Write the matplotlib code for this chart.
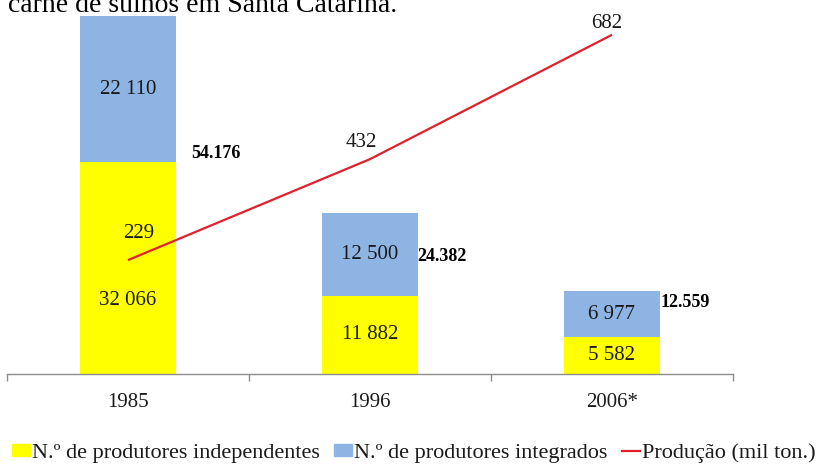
import matplotlib.pyplot as plt
from matplotlib.lines import Line2D
from matplotlib.patches import Patch

plt.rcParams['font.family'] = ['Liberation Serif', 'DejaVu Serif']

# data
anos = ['1985', '1996', '2006*']
independentes = [32066, 11882, 5582]
integrados = [22110, 12500, 6977]
producao = [229, 432, 682]

amarelo = '#FFFF00'
azul = '#8EB4E3'
vermelho = '#E0202A'
texto = '#1a1a1a'

W, H = 819, 465
fig = plt.figure(figsize=(W / 100, H / 100), dpi=100)

# axes placed in pixels: x 7..733, baseline at y=374 from top
ax = fig.add_axes([7 / W, (H - 374) / H, 726 / W, 374 / H])
ax2 = ax.twinx()

x = list(range(len(anos)))
b1 = ax.bar(x, independentes, width=0.4, color=amarelo, zorder=2)
b2 = ax.bar(x, integrados, width=0.4, bottom=independentes, color=azul, zorder=2)
ax.set_xlim(-0.5, 2.5)
ax.set_ylim(0, 56620)

ax2.set_ylim(0, 752)
ln, = ax2.plot(x, producao, color=vermelho, lw=1.6, solid_capstyle='butt', zorder=3)

# spines and ticks
for a in (ax, ax2):
    for s in ('top', 'right', 'left'):
        a.spines[s].set_visible(False)
    a.set_yticks([])
ax2.spines['bottom'].set_visible(False)
ax.spines['bottom'].set_color('#8c8c8c')
ax.spines['bottom'].set_linewidth(1.0)
ax.set_xticks(x)
ax.set_xticklabels(anos, fontsize=15, color=texto)
ax.tick_params(axis='x', which='major', length=0, pad=14)
ax.set_xticks([-0.5, 0.5, 1.5, 2.5], minor=True)
ax.tick_params(axis='x', which='minor', length=5, color='#8c8c8c', width=1.0)

# labels inside bars (value in thousands separated by space)
def fmt_space(v):
    return f'{v:,}'.replace(',', ' ')

# offsets in points for labels that were moved by hand
off_ind = [-23, 0, 0]
for i in x:
    ax.annotate(fmt_space(independentes[i]), (i, independentes[i] / 2),
                xytext=(0, off_ind[i]), textcoords='offset points',
                ha='center', va='center', fontsize=15, color=texto, zorder=4)
    ax.annotate(fmt_space(integrados[i]), (i, independentes[i] + integrados[i] / 2),
                ha='center', va='center', fontsize=15, color=texto, zorder=4)

# totals, bold
tot_off = [(11, -99), (-1, -31), (0, -8)]
for i in x:
    total = independentes[i] + integrados[i]
    ax.annotate(f'{total:,}'.replace(',', '.'), (i + 0.2, total),
                xytext=tot_off[i], textcoords='offset points',
                ha='left', va='center', fontsize=13, fontweight='bold',
                color='black', zorder=4)

# production labels
prod_off = [(8, 19), (-6, 12), (-4, 8.5)]
for i in x:
    ax2.annotate(str(producao[i]), (i, producao[i]), xytext=prod_off[i],
                 textcoords='offset points', ha='center', va='center',
                 fontsize=15, color=texto, annotation_clip=False, zorder=4)

# cropped caption line at the top
fig.text(8 / W, (H - 12) / H, 'carne de suínos em Santa Catarina.',
         fontsize=20, color='black', va='baseline', ha='left')

handles = [Patch(color=amarelo), Patch(color=azul),
           Line2D([0], [0], color=vermelho, lw=1.6)]
labels = ['N.º de produtores independentes', 'N.º de produtores integrados',
          'Produção (mil ton.)']
fig.legend(handles, labels, loc='center left', ncol=3, frameon=False,
           bbox_to_anchor=(12 / W, (H - 453) / H), fontsize=16,
           handlelength=0.8, handleheight=0.4, handletextpad=0.1,
           columnspacing=0.65, borderpad=0, borderaxespad=0,
           labelcolor=texto)

fig.savefig('out.png', dpi=100)
